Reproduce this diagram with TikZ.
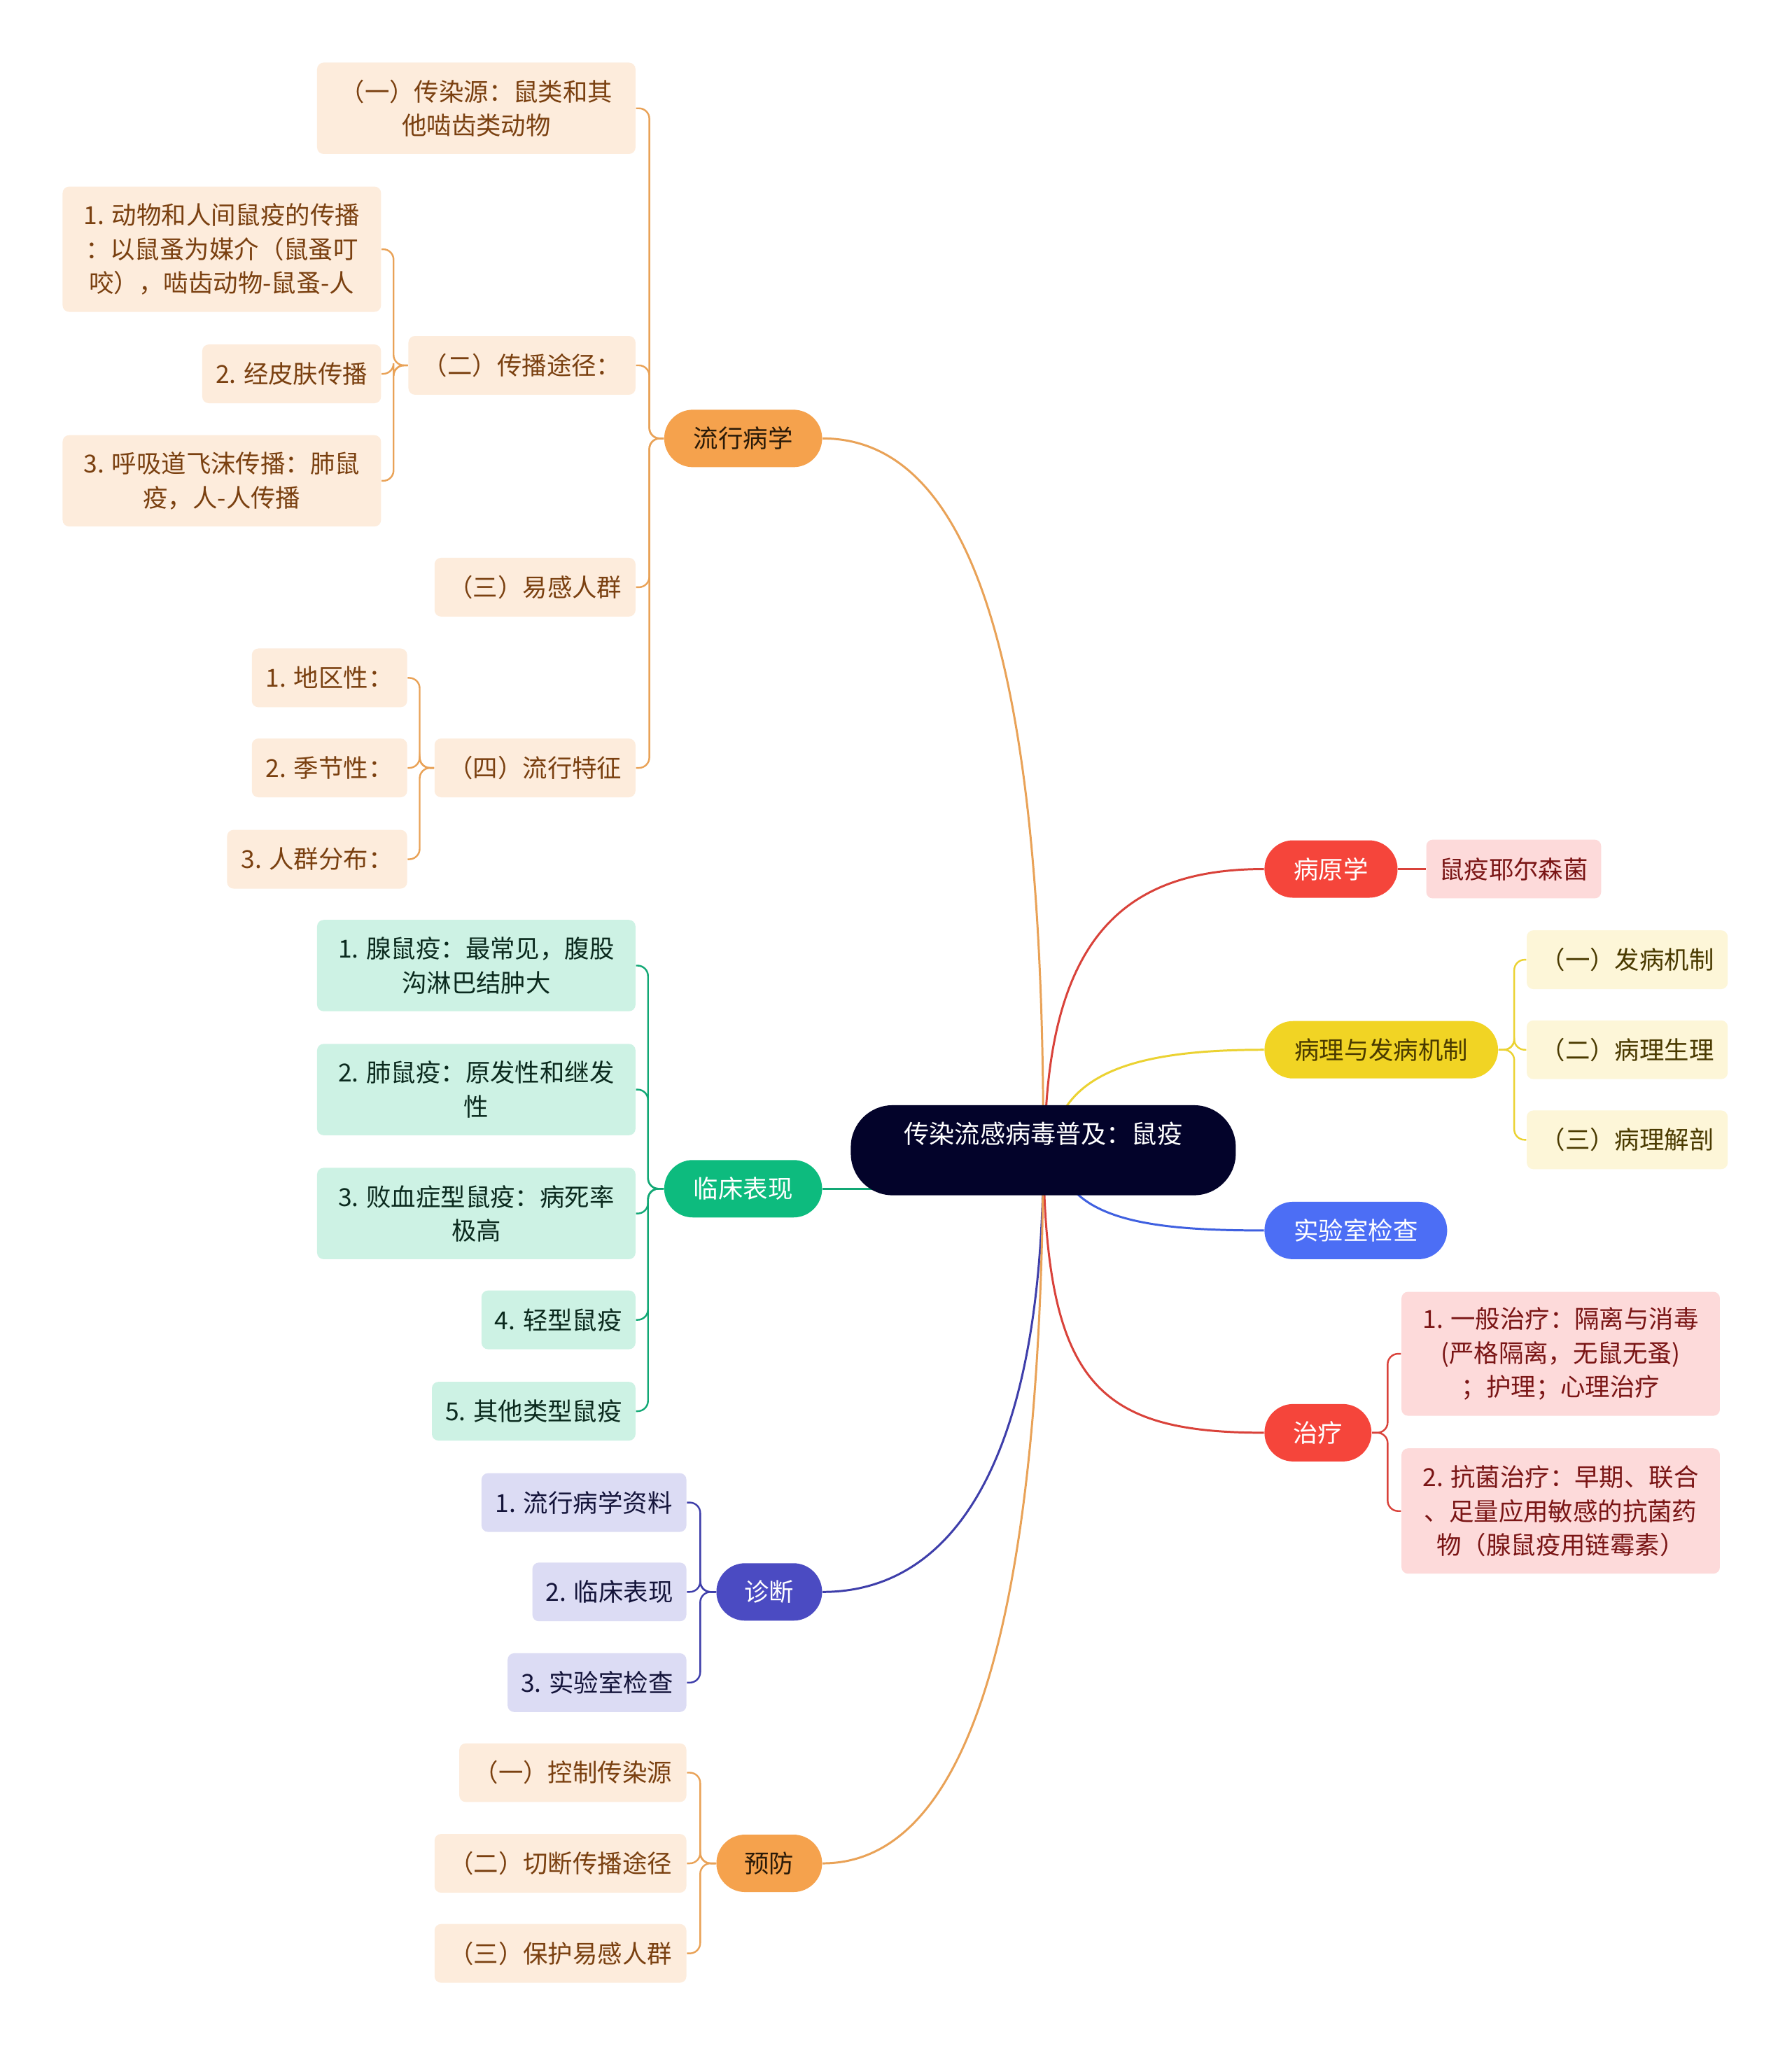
\documentclass[tikz,border=0pt]{standalone}
\usepackage{fontspec}
\setmainfont{Noto Sans CJK SC}
\usetikzlibrary{backgrounds}
\definecolor{cRoot}{HTML}{03032A}
\definecolor{cOr}{HTML}{F5A24D}
\definecolor{lOr}{HTML}{E9A257}
\definecolor{fOr}{HTML}{FDECDC}
\definecolor{tOr}{HTML}{7A4010}
\definecolor{dOr}{HTML}{2A1A08}
\definecolor{cRd}{HTML}{F5453B}
\definecolor{lRd}{HTML}{D9423A}
\definecolor{fRd}{HTML}{FDDADA}
\definecolor{tRd}{HTML}{7A1515}
\definecolor{cYe}{HTML}{F1D424}
\definecolor{lYe}{HTML}{EBD232}
\definecolor{fYe}{HTML}{FDF6D8}
\definecolor{tYe}{HTML}{4A3A00}
\definecolor{cBl}{HTML}{4C6EF5}
\definecolor{lBl}{HTML}{3F60E0}
\definecolor{cGr}{HTML}{0DBB7E}
\definecolor{lGr}{HTML}{12A875}
\definecolor{fGr}{HTML}{CDF2E4}
\definecolor{tGr}{HTML}{0B2A1E}
\definecolor{cPu}{HTML}{4B4BC2}
\definecolor{lPu}{HTML}{3E3EAA}
\definecolor{fPu}{HTML}{DCDCF4}
\definecolor{tPu}{HTML}{14143A}
\tikzset{
  base/.style={font=\fontsize{9.5pt}{13pt}\selectfont, align=center, inner xsep=0pt, inner ysep=0pt},
  pill/.style={base, rounded corners=11pt, minimum height=22pt},
  box/.style={base, rounded corners=2.5pt, minimum height=22.5pt},
  orbox/.style={box, fill=fOr, text=tOr},
  rdbox/.style={box, fill=fRd, text=tRd},
  yebox/.style={box, fill=fYe, text=tYe},
  grbox/.style={box, fill=fGr, text=tGr},
  pubox/.style={box, fill=fPu, text=tPu},
  mainline/.style={line width=0.8pt},
  subline/.style={line width=0.65pt, rounded corners=4pt},
}
\begin{document}
\begin{tikzpicture}[x=0.5pt,y=-0.5pt]
\useasboundingbox (0,0) rectangle (1373,1568);

% root
\node[base, fill=cRoot, text=white, rounded corners=16pt, minimum width=147.5pt,
  minimum height=34.5pt, text height=14.5pt, text depth=20pt,
  font=\fontsize{9.7pt}{13pt}\selectfont] (root) at (799.5,881.5) {传染流感病毒普及：鼠疫};

% level 1 pills
\node[pill, fill=cOr, text=dOr, minimum width=60.5pt] (ep) at (569.5,336) {流行病学};
\node[pill, fill=cGr, text=white, minimum width=60.5pt] (cl) at (569.5,911) {临床表现};
\node[pill, fill=cPu, text=white, minimum width=40.5pt] (dx) at (589.5,1220) {诊断};
\node[pill, fill=cOr, text=dOr, minimum width=40.5pt] (pv) at (589.5,1428) {预防};
\node[pill, fill=cRd, text=white, minimum width=51pt] (by) at (1020,666) {病原学};
\node[pill, fill=cYe, text=tYe, minimum width=89.5pt] (bl) at (1058.5,804.5) {病理与发病机制};
\node[pill, fill=cBl, text=white, minimum width=70pt] (sy) at (1039,943) {实验室检查};
\node[pill, fill=cRd, text=white, minimum width=41pt] (zl) at (1010,1098) {治疗};

% 流行病学 children
\node[orbox, minimum width=122pt, minimum height=35pt] (a1) at (365,83) {（一）传染源：鼠类和其\\他啮齿类动物};
\node[orbox, minimum width=87pt] (a2) at (400,280) {（二）传播途径：};
\node[orbox, minimum width=122pt, minimum height=48pt] (a21) at (170,191) {1. 动物和人间鼠疫的传播\\：以鼠蚤为媒介（鼠蚤叮\\咬），啮齿动物-鼠蚤-人};
\node[orbox, minimum width=68.5pt] (a22) at (223.5,286.5) {2. 经皮肤传播};
\node[orbox, minimum width=122pt, minimum height=35pt] (a23) at (170,368.5) {3. 呼吸道飞沫传播：肺鼠\\疫，人-人传播};
\node[orbox, minimum width=77pt] (a3) at (410,450) {（三）易感人群};
\node[orbox, minimum width=77pt] (a4) at (410,588.5) {（四）流行特征};
\node[orbox, minimum width=59.5pt] (a41) at (252.5,519.5) {1. 地区性：};
\node[orbox, minimum width=59.5pt] (a42) at (252.5,588.5) {2. 季节性：};
\node[orbox, minimum width=69pt] (a43) at (243,658.5) {3. 人群分布：};

% 临床表现 children
\node[grbox, minimum width=122pt, minimum height=35pt] (c1) at (365,740) {1. 腺鼠疫：最常见，腹股\\沟淋巴结肿大};
\node[grbox, minimum width=122pt, minimum height=35pt] (c2) at (365,835) {2. 肺鼠疫：原发性和继发\\性};
\node[grbox, minimum width=122pt, minimum height=35pt] (c3) at (365,930) {3. 败血症型鼠疫：病死率\\极高};
\node[grbox, minimum width=59pt] (c4) at (428,1011.5) {4. 轻型鼠疫};
\node[grbox, minimum width=78pt] (c5) at (409,1081.5) {5. 其他类型鼠疫};

% 诊断 children
\node[pubox, minimum width=78.5pt] (d1) at (447.5,1151.5) {1. 流行病学资料};
\node[pubox, minimum width=59pt] (d2) at (467,1220) {2. 临床表现};
\node[pubox, minimum width=68.5pt] (d3) at (457.5,1289.5) {3. 实验室检查};

% 预防 children
\node[orbox, minimum width=87pt] (p1) at (439,1358.5) {（一）控制传染源};
\node[orbox, minimum width=96.5pt] (p2) at (429.5,1428) {（二）切断传播途径};
\node[orbox, minimum width=96.5pt] (p3) at (429.5,1497) {（三）保护易感人群};

% right side children
\node[rdbox, minimum width=67pt] (b1) at (1160,666) {鼠疫耶尔森菌};
\node[yebox, minimum width=77pt] (y1) at (1247,735.5) {（一）发病机制};
\node[yebox, minimum width=77pt] (y2) at (1247,804.5) {（二）病理生理};
\node[yebox, minimum width=77pt] (y3) at (1247,873.5) {（三）病理解剖};
\node[rdbox, minimum width=122pt, minimum height=47.5pt] (t1) at (1196,1037.5) {1. 一般治疗：隔离与消毒\\(严格隔离，无鼠无蚤)\\；护理；心理治疗};
\node[rdbox, minimum width=122pt, minimum height=48pt] (t2) at (1196,1158) {2. 抗菌治疗：早期、联合\\、足量应用敏感的抗菌药\\物（腺鼠疫用链霉素）};

\begin{scope}[on background layer]
\fill[white] (0,0) rectangle (1373,1568);
% main branches
\draw[lOr, mainline] (ep.east) .. controls (760,336) and (800,560) .. (root.center);
\draw[lRd, mainline] (by.west) .. controls (860,666) and (802,720) .. ([xshift=0.5pt]root.center);
\draw[lYe, mainline] (bl.west) .. controls (870,804.5) and (812,822) .. ([xshift=3pt]root.center);
\draw[lBl, mainline] ([xshift=5pt]root.center) .. controls (815,935) and (880,943) .. (sy.west);
\draw[lRd, mainline] (root.center) .. controls (801,1060) and (840,1098) .. (zl.west);
\draw[lPu, mainline] (root.center) .. controls (800,1120) and (730,1220) .. (dx.east);
\draw[lOr, mainline] (root.center) .. controls (798,1250) and (740,1428) .. (pv.east);
\draw[lGr, mainline] (cl.east) -- (cl.east -| root.center);
\end{scope}

% sub branches
\draw[lRd, mainline] (by.east) -- (b1.west);
\foreach \c in {a1,a2,a3,a4} \draw[lOr, subline] (ep.west) -- ++(-5.5pt,0) |- (\c.east);
\foreach \c in {a21,a22,a23} \draw[lOr, subline] (a2.west) -- ++(-5.5pt,0) |- (\c.east);
\foreach \c in {a41,a42,a43} \draw[lOr, subline] (a4.west) -- ++(-5.5pt,0) |- (\c.east);
\foreach \c in {c1,c2,c3,c4,c5} \draw[lGr, subline] (cl.west) -- ++(-6pt,0) |- (\c.east);
\foreach \c in {d1,d2,d3} \draw[lPu, subline] (dx.west) -- ++(-6pt,0) |- (\c.east);
\foreach \c in {p1,p2,p3} \draw[lOr, subline] (pv.west) -- ++(-6pt,0) |- (\c.east);
\foreach \c in {y1,y2,y3} \draw[lYe, subline] (bl.east) -- ++(6pt,0) |- (\c.west);
\foreach \c in {t1,t2} \draw[lRd, subline] (zl.east) -- ++(6pt,0) |- (\c.west);
\end{tikzpicture}
\end{document}
